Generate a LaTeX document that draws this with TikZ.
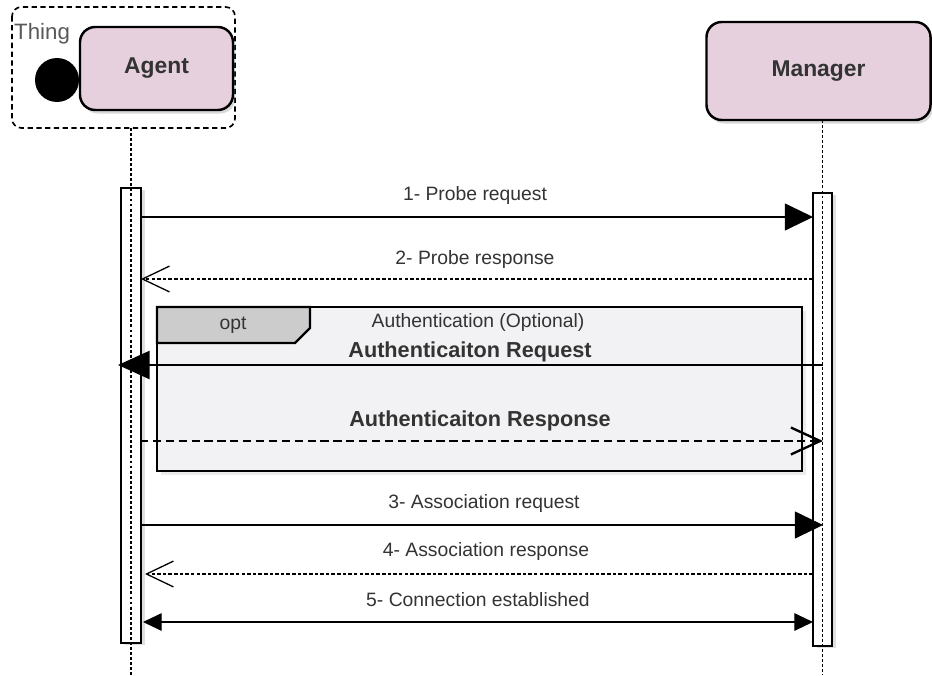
\documentclass[tikz,border=0pt]{standalone}
\usepackage{fontspec}
\setmainfont{Liberation Sans}
\usetikzlibrary{arrows.meta,shadows}

\definecolor{actorpink}{HTML}{E6D0DE}
\definecolor{framefill}{HTML}{F2F2F4}
\definecolor{tabfill}{HTML}{CCCCCC}
\definecolor{txtgray}{HTML}{333333}

\tikzset{
  actor/.style={draw=black, line width=2.1pt, rounded corners=13pt, fill=actorpink,
    text=txtgray, inner sep=0pt, font=\fontsize{19.5}{23}\selectfont\bfseries,
    drop shadow={opacity=0.3, shadow xshift=2pt, shadow yshift=-3pt}},
  thingbox/.style={draw=black, line width=1.4pt, rounded corners=8pt,
    dash pattern=on 4.5pt off 3pt},
  lifeline/.style={draw=black, line width=1pt, dash pattern=on 2.5pt off 1.8pt},
  actbar/.style={draw=black, line width=1pt, fill=white,
    drop shadow={opacity=0.25, shadow xshift=3pt, shadow yshift=-2pt}},
  msg/.style={line width=1.2pt, -{Triangle[length=24pt, width=23pt]}},
  reply/.style={line width=1pt, dash pattern=on 3pt off 1.8pt,
    -{Straight Barb[length=23pt, width=22pt, line width=1.1pt]}},
  msglabel/.style={text=txtgray, font=\fontsize{16.5}{19}\selectfont, inner sep=1pt},
  authlabel/.style={text=txtgray, font=\fontsize{18.5}{22}\selectfont\bfseries, inner sep=1pt},
  optframe/.style={draw=black, line width=2.1pt, fill=framefill,
    drop shadow={opacity=0.15, shadow xshift=3pt, shadow yshift=-3pt}},
  opttab/.style={draw=black, line width=2.1pt, fill=tabfill}
}

\begin{document}
\begin{tikzpicture}[x=0.03cm, y=-0.03cm]
\useasboundingbox (0,0) rectangle (932,675);

\pgfmathsetmacro{\agentx}{131}
\pgfmathsetmacro{\managerx}{822.5}

\draw[thingbox] (12,7) rectangle (235,128);
\node[anchor=west, text=black!65, font=\fontsize{19}{22}\selectfont, inner sep=0pt] (thinglabel) at (14,34) {Thing};
\node[circle, fill=black, minimum size=1.32cm, inner sep=0pt] (thing) at (57,80) {};
\node[actor, minimum width=4.59cm, minimum height=2.49cm] (agent) at (156.5,68.5) {Agent};
\node[actor, minimum width=6.72cm, minimum height=2.94cm] (manager) at (818.5,71) {Manager};

\coordinate (atop) at (\agentx,128);
\coordinate (abot) at (\agentx,675);
\coordinate (mtop) at (\managerx,120);
\coordinate (mbot) at (\managerx,675);

\draw[actbar] (121,188) rectangle (141,643);
\draw[actbar] (813,193) rectangle (832,646);
\draw[lifeline] (atop) -- (abot);
\draw[lifeline] (mtop) -- (mbot);

\draw[optframe] (157,307) rectangle (802,471);
\draw[opttab] (157,307) -- (310,307) -- (310,328) -- (295,343) -- (157,343) -- cycle;
\node[msglabel] (opt) at (233,325) {opt};
\node[msglabel] (optname) at (478,322) {Authentication (Optional)};

\coordinate (a1) at (141,217);
\coordinate (m1) at (813,217);
\coordinate (m2) at (813,279);
\coordinate (a2) at (141,279);
\coordinate (mq) at (823,365);
\coordinate (aq) at (118,365);
\coordinate (ar) at (140,441);
\coordinate (mr) at (823,441);
\coordinate (a3) at (141,525);
\coordinate (m3) at (823,525);
\coordinate (m4) at (813,574);
\coordinate (a4) at (145,574);
\coordinate (a5) at (143,622);
\coordinate (m5) at (813,622);

\draw[msg] (a1) -- (m1);
\node[msglabel] (l1) at (475,196) {1- Probe request};
\draw[reply] (m2) -- (a2);
\node[msglabel] (l2) at (475,259) {2- Probe response};

\draw[line width=1.8pt, -{Triangle[length=27pt, width=24pt]}] (mq) -- (aq);
\node[authlabel] (lq) at (470,352) {Authenticaiton Request};
\draw[line width=2.3pt, dash pattern=on 7pt off 4pt,
  -{Straight Barb[length=25pt, width=23pt, line width=2pt]}] (ar) -- (mr);
\node[authlabel] (lr) at (480,421) {Authenticaiton Response};

\draw[msg] (a3) -- (m3);
\node[msglabel] (l3) at (484,503) {3- Association request};
\draw[reply] (m4) -- (a4);
\node[msglabel] (l4) at (486,551) {4- Association response};
\draw[line width=1.2pt, {Triangle[length=16pt, width=15pt]}-{Triangle[length=16pt, width=15pt]}] (a5) -- (m5);
\node[msglabel] (l5) at (478,600) {5- Connection established};
\end{tikzpicture}
\end{document}
